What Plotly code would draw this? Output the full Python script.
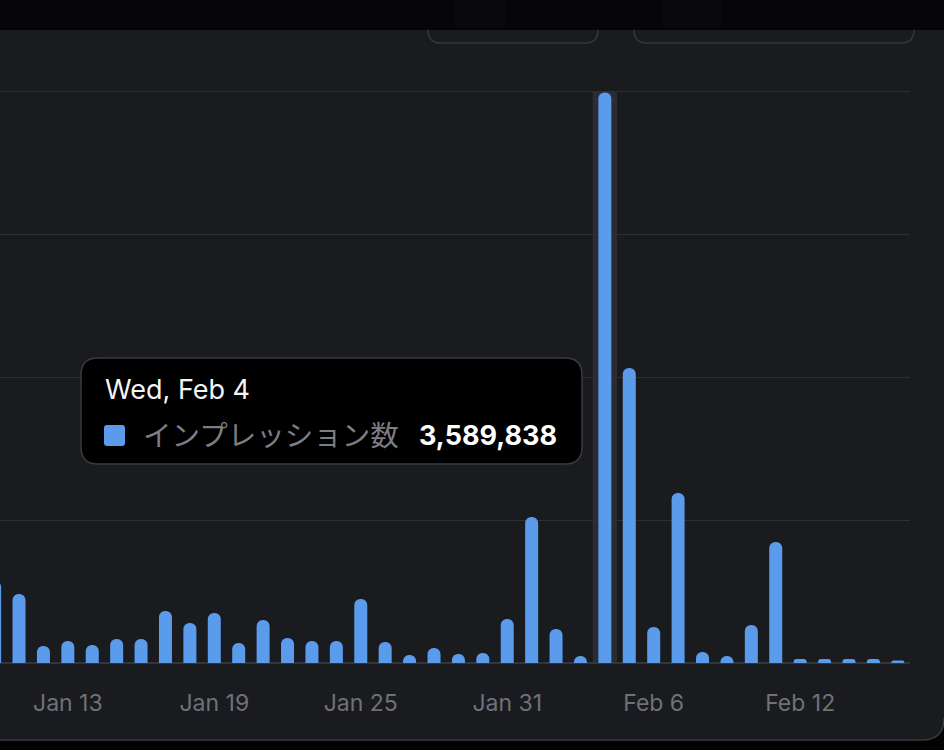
import plotly.graph_objects as go
import pandas as pd

# ---------------- data ----------------
dates = pd.date_range("2026-01-10", "2026-02-16", freq="D")
impressions = [
    516000, 434000, 107000, 139000, 113000, 151000, 151000, 327000, 252000, 315000,
    126000, 271000, 157000, 138000, 138000, 403000, 132000, 50000, 94000, 57000,
    63000, 277000, 919000, 214000, 44000, 3589838, 1857000, 227000, 1070000, 69000,
    44000, 239000, 762000, 25000, 25000, 25000, 25000, 15000,
]
series_name = "インプレッション数"
hover_date = "2026-02-04"
tooltip_title = "Wed, Feb 4"
tick_dates = ["2026-01-13", "2026-01-19", "2026-01-25", "2026-01-31", "2026-02-06", "2026-02-12"]
tick_labels = ["Jan 13", "Jan 19", "Jan 25", "Jan 31", "Feb 6", "Feb 12"]
y_max = 3600000
y_step = 900000

# ---------------- style ----------------
W, H = 944, 750
ML, MR, MT, MB = 0, 34, 88, 87
PW, PH = W - ML - MR, H - MT - MB
BASE_Y = MT + PH          # pixel row of the baseline (663)
GRID_TOP_PX = 91          # pixel row where y_max sits
y_top = y_max * PH / (BASE_Y - GRID_TOP_PX)

BG = "#1a1b1f"
GRID = "#2e2f34"
BLUE = "#5b9bec"
BAND = "#2a2c32"
AXIS_TXT = "#707177"
BORDER = "#3a3b40"
FONT = "Inter, 'Noto Sans CJK JP', sans-serif"

DAY_MS = 86400000
BAR_PX = 13
hd = pd.Timestamp(hover_date)
hover_value = impressions[list(dates).index(hd)]


def X(px):
    return (px - ML) / PW


def Y(py):
    return (BASE_Y - py) / PH


def rrect(x0, y0, x1, y1, r):
    p = [
        f"M{X(x0 + r)},{Y(y0)}",
        f"L{X(x1 - r)},{Y(y0)}",
        f"Q{X(x1)},{Y(y0)} {X(x1)},{Y(y0 + r)}",
        f"L{X(x1)},{Y(y1 - r)}",
        f"Q{X(x1)},{Y(y1)} {X(x1 - r)},{Y(y1)}",
        f"L{X(x0 + r)},{Y(y1)}",
        f"Q{X(x0)},{Y(y1)} {X(x0)},{Y(y1 - r)}",
        f"L{X(x0)},{Y(y0 + r)}",
        f"Q{X(x0)},{Y(y0)} {X(x0 + r)},{Y(y0)}",
        "Z",
    ]
    return " ".join(p)


x_start = dates[0] + pd.Timedelta(hours=5.3)
x_end = dates[-1] + pd.Timedelta(hours=12)
span_days = (x_end - x_start).total_seconds() / 86400
bar_width = BAR_PX / (PW / span_days) * DAY_MS

fig = go.Figure()
fig.add_trace(go.Bar(
    x=dates, y=impressions,
    width=bar_width, marker=dict(color=BLUE, cornerradius=7, line=dict(width=0)),
    name=series_name, hoverinfo="skip",
))

shapes = []
shapes.append(dict(type="rect", xref="x", yref="paper",
                   x0=hd - pd.Timedelta(hours=12), x1=hd + pd.Timedelta(hours=12),
                   y0=0, y1=Y(92), fillcolor=BAND, line=dict(width=0), layer="below"))
shapes.append(dict(type="path", xref="paper", yref="paper", path=rrect(428, 0, 598, 43, 13),
                   line=dict(color="#36373c", width=1.5), fillcolor="rgba(0,0,0,0)", layer="above"))
shapes.append(dict(type="path", xref="paper", yref="paper", path=rrect(634, 0, 914, 43, 13),
                   line=dict(color="#36373c", width=1.5), fillcolor="rgba(0,0,0,0)", layer="above"))
shapes.append(dict(type="rect", xref="paper", yref="paper", x0=X(0), x1=X(W), y0=Y(0), y1=Y(30),
                   fillcolor="#060608", line=dict(width=0), layer="above"))
shapes.append(dict(type="rect", xref="paper", yref="paper", x0=X(455), x1=X(505), y0=Y(0), y1=Y(28),
                   fillcolor="rgba(255,255,255,0.018)", line=dict(width=0), layer="above"))
shapes.append(dict(type="rect", xref="paper", yref="paper", x0=X(662), x1=X(722), y0=Y(0), y1=Y(28),
                   fillcolor="rgba(255,255,255,0.015)", line=dict(width=0), layer="above"))
shapes.append(dict(type="rect", xref="paper", yref="paper", x0=X(0), x1=X(W), y0=Y(740), y1=Y(H),
                   fillcolor="#030304", line=dict(width=0), layer="above"))
shapes.append(dict(type="path", xref="paper", yref="paper",
                   path=f"M{X(W)},{Y(718)} Q{X(W)},{Y(740)} {X(922)},{Y(740)} L{X(W)},{Y(740)} Z",
                   fillcolor="#030304", line=dict(width=0), layer="above"))
shapes.append(dict(type="path", xref="paper", yref="paper",
                   path=f"M{X(0)},{Y(740)} L{X(922)},{Y(740)} Q{X(W)},{Y(740)} {X(W)},{Y(718)}",
                   fillcolor="rgba(0,0,0,0)", line=dict(color=BORDER, width=1.5), layer="above"))
shapes.append(dict(type="path", xref="paper", yref="paper", path=rrect(81, 358, 582, 464, 17),
                   fillcolor="#000000", line=dict(color=BORDER, width=1.5), layer="above"))
shapes.append(dict(type="path", xref="paper", yref="paper", path=rrect(104, 425, 125, 446, 3),
                   fillcolor=BLUE, line=dict(width=0), layer="above"))

annotations = [
    dict(xref="paper", yref="paper", x=X(103), y=Y(389), xanchor="left", yanchor="middle",
         text=tooltip_title, showarrow=False, font=dict(family=FONT, size=27, color="#f4f4f5")),
    dict(xref="paper", yref="paper", x=X(141), y=Y(435), xanchor="left", yanchor="middle",
         text=series_name, showarrow=False, font=dict(family=FONT, size=28.5, color="#7d7e84")),
    dict(xref="paper", yref="paper", x=X(559), y=Y(435), xanchor="right", yanchor="middle",
         text=f"<b>{hover_value:,}</b>", showarrow=False, font=dict(family=FONT, size=27, color="#ffffff")),
]

fig.update_layout(
    width=W, height=H,
    margin=dict(l=ML, r=MR, t=MT, b=MB, pad=0),
    paper_bgcolor=BG, plot_bgcolor=BG,
    barmode="overlay", showlegend=False,
    font=dict(family=FONT, color=AXIS_TXT),
    shapes=shapes, annotations=annotations,
    xaxis=dict(type="date", range=[x_start, x_end], tickvals=tick_dates, ticktext=tick_labels,
               showgrid=False, zeroline=False, showline=False,
               ticks="outside", ticklen=19, tickcolor="rgba(0,0,0,0)",
               tickfont=dict(family=FONT, size=23, color=AXIS_TXT), fixedrange=True),
    yaxis=dict(range=[0, y_top], tick0=0, dtick=y_step, showgrid=True, gridcolor=GRID, gridwidth=1.2,
               zeroline=True, zerolinecolor="#34353a", zerolinewidth=1.5,
               showticklabels=False, ticks="", showline=False, fixedrange=True),
)

fig.write_html("out.html", config={"displayModeBar": False},
               post_script="document.body.style.margin='0';document.body.style.overflow='hidden';")
